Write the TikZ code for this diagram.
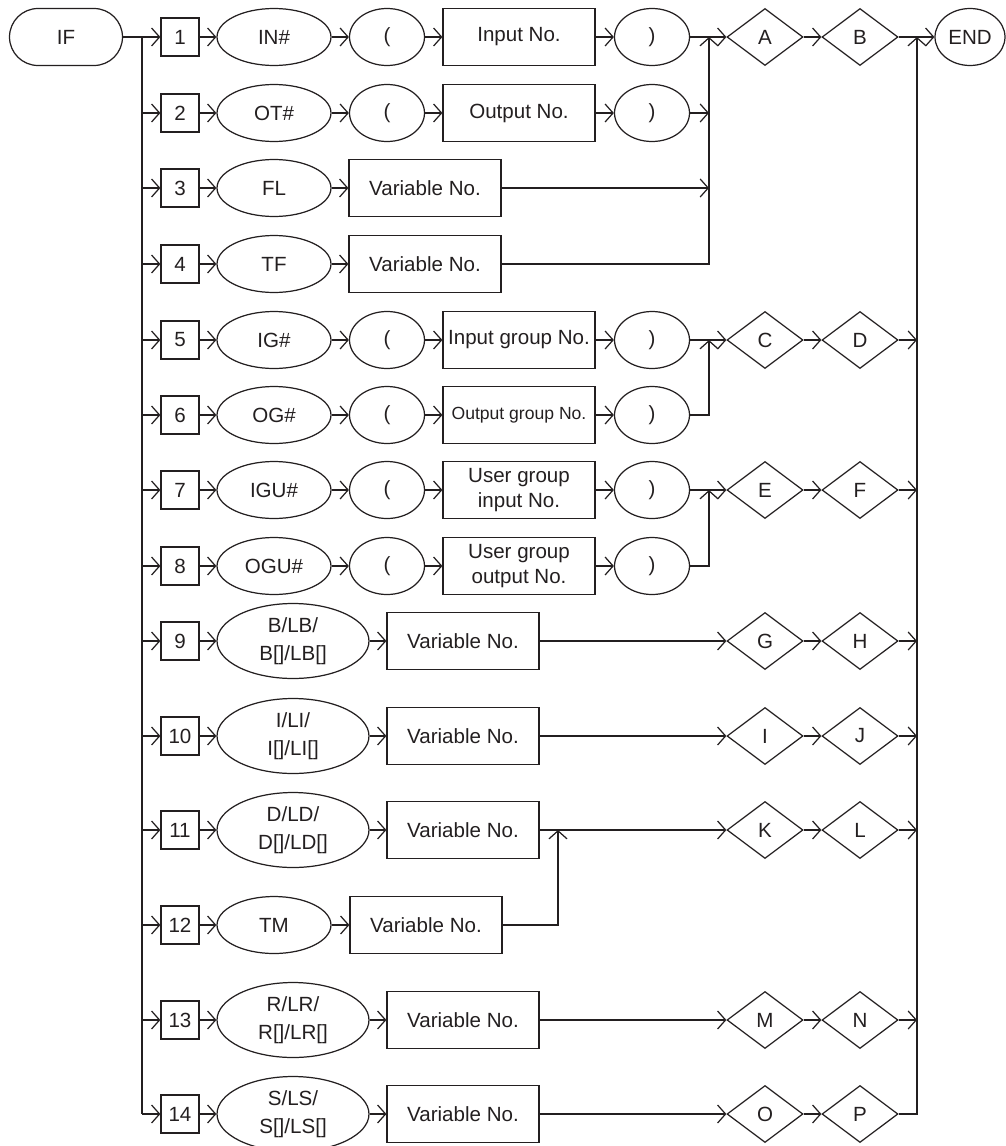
\documentclass[tikz,border=0pt]{standalone}
\usepackage{fontspec}
\setmainfont{Liberation Sans}
\usepackage{xcolor}
\usetikzlibrary{shapes.geometric,arrows.meta}
\definecolor{ifink}{RGB}{35, 31, 32}

\begin{document}
\begin{tikzpicture}[x=0.02cm, y=-0.02cm, line width=0.7pt, color=ifink,
        font=\fontsize{11.7}{14}\selectfont,
        >={Straight Barb[length=1.6mm, width=3.6mm]},
        numbox/.style={draw, minimum width=0.76cm, minimum height=0.76cm, inner sep=0pt},
        keyword/.style={draw, ellipse, minimum width=2.28cm, minimum height=1.14cm, inner sep=0pt},
        bigkey/.style={draw, ellipse, minimum width=3.04cm, minimum height=1.5cm, inner sep=0pt, align=center},
        paren/.style={draw, ellipse, minimum width=1.5cm, minimum height=1.14cm, inner sep=0pt},
        field/.style={draw, minimum width=3.04cm, minimum height=1.14cm, inner sep=1pt, align=center},
        cond/.style={draw, diamond, minimum width=1.52cm, minimum height=1.14cm, inner sep=0pt}]
            \useasboundingbox (0,0) rectangle (1006,1146);

            % Start and end
            \node[draw, rounded corners=0.57cm, minimum width=2.26cm, minimum height=1.14cm] (if) at (66,37) {IF};
            \node[draw, ellipse, minimum width=1.4cm, minimum height=1.14cm, inner sep=0pt] (end) at (970,37) {END};

            % Row 1
            \node[numbox] (n1) at (180,37) {1};
            \node[keyword] (in) at (274,37) {IN\#};
            \node[paren] (lp1) at (387,37) {(};
            \node[field] (inno) at (519,37) {Input No.};
            \node[paren] (rp1) at (652,37) {)};
            \node[cond] (cA) at (765,37) {A};
            \node[cond] (cB) at (860,37) {B};

            % Row 2
            \node[numbox] (n2) at (180,113) {2};
            \node[keyword] (ot) at (274,113) {OT\#};
            \node[paren] (lp2) at (387,113) {(};
            \node[field] (outno) at (519,113) {Output No.};
            \node[paren] (rp2) at (652,113) {)};

            % Rows 3 and 4
            \node[numbox] (n3) at (180,188) {3};
            \node[keyword] (fl) at (274,188) {FL};
            \node[field] (var3) at (425,188) {Variable No.};
            \node[numbox] (n4) at (180,264) {4};
            \node[keyword] (tf) at (274,264) {TF};
            \node[field] (var4) at (425,264) {Variable No.};

            % Rows 5 and 6
            \node[numbox] (n5) at (180,340) {5};
            \node[keyword] (ig) at (274,340) {IG\#};
            \node[paren] (lp5) at (387,340) {(};
            \node[field] (igno) at (519,340) {Input group No.};
            \node[paren] (rp5) at (652,340) {)};
            \node[cond] (cC) at (765,340) {C};
            \node[cond] (cD) at (860,340) {D};
            \node[numbox] (n6) at (180,415) {6};
            \node[keyword] (og) at (274,415) {OG\#};
            \node[paren] (lp6) at (387,415) {(};
            \node[field] (ogno) at (519,415) {\fontsize{10}{12}\selectfont Output group No.};
            \node[paren] (rp6) at (652,415) {)};

            % Rows 7 and 8
            \node[numbox] (n7) at (180,490) {7};
            \node[keyword] (igu) at (274,490) {IGU\#};
            \node[paren] (lp7) at (387,490) {(};
            \node[field] (iguno) at (519,490) {User group\\input No.};
            \node[paren] (rp7) at (652,490) {)};
            \node[cond] (cE) at (765,490) {E};
            \node[cond] (cF) at (860,490) {F};
            \node[numbox] (n8) at (180,566) {8};
            \node[keyword] (ogu) at (274,566) {OGU\#};
            \node[paren] (lp8) at (387,566) {(};
            \node[field] (oguno) at (519,566) {User group\\output No.};
            \node[paren] (rp8) at (652,566) {)};

            % Rows 9 and 10
            \node[numbox] (n9) at (180,641) {9};
            \node[bigkey] (bl) at (293,641) {B/LB/\\[2pt]B[]/LB[]};
            \node[field] (var9) at (463,641) {Variable No.};
            \node[cond] (cG) at (765,641) {G};
            \node[cond] (cH) at (860,641) {H};
            \node[numbox] (n10) at (180,736) {10};
            \node[bigkey] (il) at (293,736) {I/LI/\\[2pt]I[]/LI[]};
            \node[field] (var10) at (463,736) {Variable No.};
            \node[cond] (cI) at (765,736) {I};
            \node[cond] (cJ) at (860,736) {J};

            % Rows 11 and 12
            \node[numbox] (n11) at (180,830) {11};
            \node[bigkey] (dl) at (293,830) {D/LD/\\[2pt]D[]/LD[]};
            \node[field] (var11) at (463,830) {Variable No.};
            \node[cond] (cK) at (765,830) {K};
            \node[cond] (cL) at (860,830) {L};
            \node[numbox] (n12) at (180,925) {12};
            \node[keyword] (tm) at (274,925) {TM};
            \node[field] (var12) at (426,925) {Variable No.};

            % Rows 13 and 14
            \node[numbox] (n13) at (180,1020) {13};
            \node[bigkey] (rl) at (293,1020) {R/LR/\\[2pt]R[]/LR[]};
            \node[field] (var13) at (463,1020) {Variable No.};
            \node[cond] (cM) at (765,1020) {M};
            \node[cond] (cN) at (860,1020) {N};
            \node[numbox] (n14) at (180,1114) {14};
            \node[bigkey] (sl) at (293,1114) {S/LS/\\[2pt]S[]/LS[]};
            \node[field] (var14) at (463,1114) {Variable No.};
            \node[cond] (cO) at (765,1114) {O};
            \node[cond] (cP) at (860,1114) {P};

            % Branch and join points
            \coordinate (split) at (142,37);
            \coordinate (join1) at (709,37);
            \coordinate (join5) at (709,340);
            \coordinate (join7) at (709,490);
            \coordinate (join11) at (558,830);
            \coordinate (merge) at (917,37);

            % Left bus
            \draw[->] (if) -- (n1);
            \draw (split) -- (split |- n14);
            \draw[->] (split |- n2) -- (n2);
            \draw[->] (split |- n3) -- (n3);
            \draw[->] (split |- n4) -- (n4);
            \draw[->] (split |- n5) -- (n5);
            \draw[->] (split |- n6) -- (n6);
            \draw[->] (split |- n7) -- (n7);
            \draw[->] (split |- n8) -- (n8);
            \draw[->] (split |- n9) -- (n9);
            \draw[->] (split |- n10) -- (n10);
            \draw[->] (split |- n11) -- (n11);
            \draw[->] (split |- n12) -- (n12);
            \draw[->] (split |- n13) -- (n13);
            \draw[->] (split |- n14) -- (n14);

            % Rows 1 to 4
            \draw[->] (n1) -- (in);
            \draw[->] (in) -- (lp1);
            \draw[->] (lp1) -- (inno);
            \draw[->] (inno) -- (rp1);
            \draw[->] (rp1) -- (cA);
            \draw[->] (cA) -- (cB);
            \draw[->] (cB) -- (end);
            \draw[->] (n2) -- (ot);
            \draw[->] (ot) -- (lp2);
            \draw[->] (lp2) -- (outno);
            \draw[->] (outno) -- (rp2);
            \draw[->] (rp2) -- (rp2 -| join1);
            \draw[->] (n3) -- (fl);
            \draw[->] (fl) -- (var3);
            \draw[->] (var3) -- (var3 -| join1);
            \draw[->] (n4) -- (tf);
            \draw[->] (tf) -- (var4);
            \draw[->] (var4) -| (join1);

            % Rows 5 to 8
            \draw[->] (n5) -- (ig);
            \draw[->] (ig) -- (lp5);
            \draw[->] (lp5) -- (igno);
            \draw[->] (igno) -- (rp5);
            \draw[->] (rp5) -- (cC);
            \draw[->] (cC) -- (cD);
            \draw[->] (n6) -- (og);
            \draw[->] (og) -- (lp6);
            \draw[->] (lp6) -- (ogno);
            \draw[->] (ogno) -- (rp6);
            \draw[->] (rp6) -| (join5);
            \draw[->] (n7) -- (igu);
            \draw[->] (igu) -- (lp7);
            \draw[->] (lp7) -- (iguno);
            \draw[->] (iguno) -- (rp7);
            \draw[->] (rp7) -- (cE);
            \draw[->] (cE) -- (cF);
            \draw[->] (n8) -- (ogu);
            \draw[->] (ogu) -- (lp8);
            \draw[->] (lp8) -- (oguno);
            \draw[->] (oguno) -- (rp8);
            \draw[->] (rp8) -| (join7);

            % Rows 9 to 14
            \draw[->] (n9) -- (bl);
            \draw[->] (bl) -- (var9);
            \draw[->] (var9) -- (cG);
            \draw[->] (cG) -- (cH);
            \draw[->] (n10) -- (il);
            \draw[->] (il) -- (var10);
            \draw[->] (var10) -- (cI);
            \draw[->] (cI) -- (cJ);
            \draw[->] (n11) -- (dl);
            \draw[->] (dl) -- (var11);
            \draw[->] (var11) -- (cK);
            \draw[->] (cK) -- (cL);
            \draw[->] (n12) -- (tm);
            \draw[->] (tm) -- (var12);
            \draw[->] (var12) -| (join11);
            \draw[->] (n13) -- (rl);
            \draw[->] (rl) -- (var13);
            \draw[->] (var13) -- (cM);
            \draw[->] (cM) -- (cN);
            \draw[->] (n14) -- (sl);
            \draw[->] (sl) -- (var14);
            \draw[->] (var14) -- (cO);
            \draw[->] (cO) -- (cP);

            % Right bus
            \draw[->] (cP) -| (merge);
            \draw[->] (cD) -- (cD -| merge);
            \draw[->] (cF) -- (cF -| merge);
            \draw[->] (cH) -- (cH -| merge);
            \draw[->] (cJ) -- (cJ -| merge);
            \draw[->] (cL) -- (cL -| merge);
            \draw[->] (cN) -- (cN -| merge);
        \end{tikzpicture}
\end{document}
